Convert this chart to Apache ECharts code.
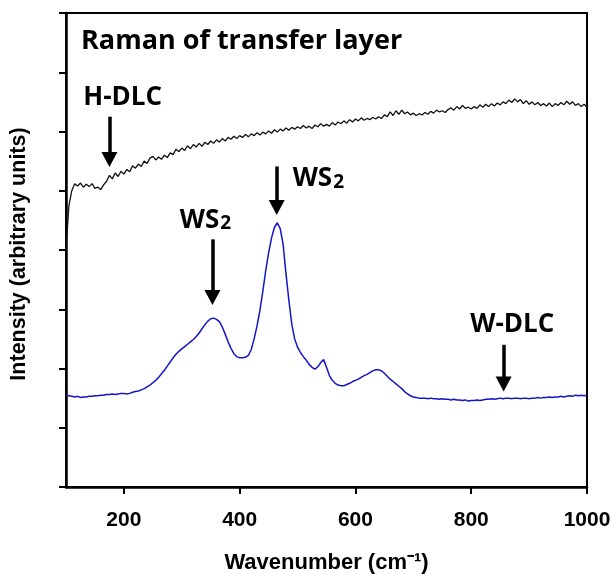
<!DOCTYPE html>
<html><head><meta charset="utf-8">
<script src="https://cdn.jsdelivr.net/npm/echarts@6/dist/echarts.min.js"></script>
<style>html,body{margin:0;padding:0;background:#fff}#c{width:616px;height:574px}</style>
</head><body><div id="c"></div>
<script>
const wavenumber = [100,105,110,115,120,125,130,135,140,145,150,155,160,165,170,175,180,185,190,195,
200,205,210,215,220,225,230,235,240,245,250,255,260,265,270,275,280,285,290,295,
300,305,310,315,320,325,330,335,340,345,350,355,360,365,370,375,380,385,390,395,
400,405,410,415,420,425,430,435,440,445,450,455,460,465,470,475,480,485,490,495,
500,505,510,515,520,525,530,535,540,545,550,555,560,565,570,575,580,585,590,595,
600,605,610,615,620,625,630,635,640,645,650,655,660,665,670,675,680,685,690,695,
700,705,710,715,720,725,730,735,740,745,750,755,760,765,770,775,780,785,790,795,
800,805,810,815,820,825,830,835,840,845,850,855,860,865,870,875,880,885,890,895,
900,905,910,915,920,925,930,935,940,945,950,955,960,965,970,975,980,985,990,995,1000];

const hDLC = [4.00,4.75,5.00,5.12,5.08,5.13,5.06,5.11,5.07,5.12,5.04,5.06,5.02,5.10,5.16,5.26,5.20,5.30,5.24,5.33,
5.28,5.36,5.32,5.42,5.38,5.45,5.41,5.50,5.46,5.55,5.58,5.52,5.57,5.53,5.60,5.56,5.64,5.61,5.70,5.66,
5.72,5.68,5.76,5.71,5.78,5.74,5.80,5.75,5.82,5.78,5.84,5.80,5.86,5.82,5.88,5.84,5.90,5.87,5.92,5.88,
5.93,5.90,5.95,5.91,5.96,5.93,5.98,5.94,5.99,5.96,6.01,5.97,6.03,5.99,6.04,6.01,6.06,6.02,6.07,6.04,
6.08,6.05,6.10,6.06,6.09,6.05,6.11,6.08,6.13,6.09,6.12,6.09,6.15,6.11,6.16,6.13,6.18,6.14,6.20,6.16,
6.21,6.18,6.23,6.19,6.22,6.20,6.24,6.21,6.25,6.22,6.28,6.25,6.33,6.27,6.35,6.29,6.36,6.30,6.33,6.28,
6.31,6.27,6.30,6.28,6.32,6.29,6.34,6.31,6.36,6.33,6.35,6.32,6.37,6.40,6.36,6.42,6.38,6.44,6.39,6.41,
6.38,6.42,6.39,6.45,6.41,6.46,6.42,6.47,6.43,6.48,6.45,6.50,6.47,6.53,6.49,6.55,6.50,6.54,6.47,6.52,
6.46,6.50,6.45,6.49,6.44,6.47,6.43,6.48,6.42,6.47,6.44,6.49,6.45,6.51,6.46,6.50,6.44,6.47,6.42,6.46,6.41];

const wDLC = [1.55,1.54,1.53,1.52,1.53,1.51,1.52,1.52,1.53,1.53,1.54,1.54,1.55,1.55,1.56,1.56,1.57,1.56,1.57,1.58,
1.58,1.57,1.58,1.60,1.61,1.62,1.64,1.66,1.69,1.72,1.76,1.80,1.85,1.91,1.97,2.04,2.11,2.18,2.24,2.29,
2.33,2.37,2.41,2.45,2.49,2.54,2.60,2.67,2.74,2.80,2.84,2.85,2.83,2.79,2.70,2.58,2.45,2.34,2.25,2.20,
2.18,2.18,2.19,2.22,2.32,2.50,2.72,2.98,3.30,3.65,3.95,4.20,4.38,4.46,4.36,4.10,3.60,3.15,2.75,2.50,
2.36,2.27,2.20,2.14,2.07,2.02,1.99,2.03,2.10,2.15,2.02,1.88,1.80,1.75,1.72,1.71,1.71,1.73,1.75,1.78,
1.80,1.82,1.85,1.88,1.90,1.93,1.96,1.98,1.98,1.96,1.92,1.87,1.82,1.78,1.74,1.70,1.66,1.61,1.57,1.54,
1.52,1.51,1.50,1.50,1.50,1.49,1.50,1.49,1.49,1.48,1.49,1.48,1.48,1.47,1.48,1.47,1.47,1.46,1.47,1.45,
1.46,1.46,1.47,1.46,1.47,1.48,1.48,1.49,1.48,1.49,1.50,1.49,1.50,1.50,1.49,1.50,1.50,1.49,1.50,1.50,
1.49,1.50,1.50,1.51,1.50,1.51,1.51,1.52,1.51,1.52,1.52,1.53,1.52,1.53,1.54,1.53,1.55,1.54,1.55,1.54,1.55];

const xTicks = [200, 400, 600, 800, 1000];
const titleText = 'Raman of transfer layer';
const xName = 'Wavenumber (cm\u207B\u00B9)';
const yName = 'Intensity (arbitrary units)';

// annotation labels (data coordinates)
const noteText = ['H-DLC', 'WS2', 'WS2', 'W-DLC'];
const noteX = [198, 341, 536, 871];
const noteY = [6.57, 4.50, 5.20, 2.74];
// arrows (data coordinates): shaft top and arrow tip
const arrowX = [175, 353, 464, 856];
const arrowTop = [6.25, 4.18, 5.41, 2.40];
const arrowTip = [5.40, 3.07, 4.59, 1.61];

const pair = (ys) => wavenumber.map((x, i) => [x, ys[i]]);
const noteFont = '"Open Sans", Lato, sans-serif';
const axisFont = '"Liberation Sans", Arial, sans-serif';
const headHalf = 7.5 / 59.25; // half arrow-head height in data units (symbol is centred on the end point)

const chart = echarts.init(document.getElementById('c'), null, {renderer: 'canvas'});
chart.setOption({
  animation: false,
  backgroundColor: '#fff',
  title: {
    text: titleText, left: 81, top: 28, padding: 0,
    textStyle: {fontFamily: noteFont, fontWeight: 'bold', fontSize: 27, color: '#000'}
  },
  grid: {left: 66, right: 29, top: 13, bottom: 87, containLabel: false, outerBoundsMode: 'none',
    show: true, borderColor: '#000', borderWidth: 2},
  xAxis: {
    type: 'value', min: 100, max: 1000, interval: 100,
    name: xName, nameLocation: 'middle', nameGap: 65,
    nameTextStyle: {fontFamily: axisFont, fontWeight: 'bold', fontSize: 22, color: '#000'},
    axisLine: {lineStyle: {color: '#000', width: 2.5}},
    axisTick: {inside: false, length: 7, lineStyle: {color: '#000', width: 2}, customValues: xTicks},
    axisLabel: {margin: 23, fontFamily: axisFont, fontWeight: 'bold', fontSize: 21, color: '#000',
      customValues: xTicks, formatter: (v) => String(v)},
    splitLine: {show: false}
  },
  yAxis: {
    type: 'value', min: 0, max: 8, interval: 1,
    name: yName, nameLocation: 'middle', nameGap: 36,
    nameTextStyle: {fontFamily: axisFont, fontWeight: 'bold', fontSize: 21.5, color: '#000', padding: [0, 8, 0, 0]},
    axisLine: {lineStyle: {color: '#000', width: 2.5}},
    axisTick: {inside: false, length: 7, lineStyle: {color: '#000', width: 2}},
    axisLabel: {show: false},
    splitLine: {show: false}
  },
  series: [
    {type: 'line', name: 'H-DLC', data: pair(hDLC), showSymbol: false, symbol: 'none',
      lineStyle: {color: '#111', width: 1.3}, silent: true},
    {type: 'line', name: 'W-DLC', data: pair(wDLC), showSymbol: false, symbol: 'none',
      lineStyle: {color: '#1414c8', width: 1.5}, silent: true},
    {type: 'scatter', name: 'notes', silent: true,
      data: noteText.map((t, i) => ({value: [noteX[i], noteY[i]], name: t})),
      symbolSize: 1, itemStyle: {color: 'transparent'},
      label: {show: true, position: 'inside', color: '#000', opacity: 1, textBorderWidth: 0, textBorderColor: 'transparent',
        formatter: (p) => p.name === 'WS2' ? '{a|WS}{b|2}' : '{a|' + p.name + '}',
        rich: {
          a: {fontFamily: noteFont, fontWeight: 'bold', fontSize: 26, color: '#000', lineHeight: 26, verticalAlign: 'top', textBorderWidth: 0},
          b: {fontFamily: noteFont, fontWeight: 'bold', fontSize: 19, color: '#000', lineHeight: 19, verticalAlign: 'bottom', padding: [10, 0, 0, 1], textBorderWidth: 0}
        }},
      markLine: {
        silent: true, symbol: ['none', 'triangle'], symbolSize: [16, 15],
        label: {show: false},
        lineStyle: {color: '#000', width: 3.5, type: 'solid'},
        data: arrowX.map((x, i) => [{coord: [x, arrowTop[i]]}, {coord: [x, arrowTip[i] + headHalf]}])
      }
    }
  ]
});
</script></body></html>
